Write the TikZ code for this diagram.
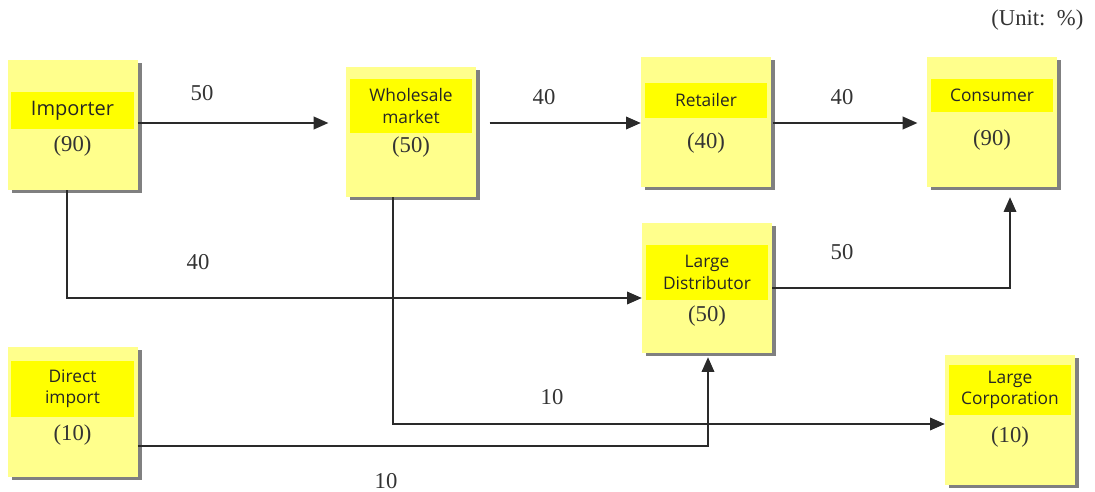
\documentclass[tikz,border=0pt]{standalone}
\usepackage{fontspec}
\setmainfont{Liberation Serif}
\newfontfamily\boxfont{Open Sans}
\usetikzlibrary{arrows.meta,shadows}
\definecolor{notefill}{HTML}{FFFF8C}
\definecolor{bandfill}{HTML}{FFFF00}
\definecolor{linegray}{HTML}{2A2A2A}
\begin{document}
\begin{tikzpicture}[x=0.75pt,y=-0.75pt,
    note/.style={fill=notefill,minimum width=97.5pt,minimum height=97.5pt,inner sep=0pt,
      drop shadow={shadow xshift=3pt,shadow yshift=-2.5pt,fill=black!50,opacity=1}},
    band/.style={fill=bandfill,minimum width=92pt,inner sep=0pt,align=center,
      font=\boxfont\fontsize{13}{16}\selectfont,text=black!85},
    val/.style={font=\fontsize{17}{19}\selectfont,text=black!80},
    num/.style={font=\fontsize{17}{19}\selectfont,text=black!80},
    arr/.style={draw=linegray,line width=1pt,-{Triangle[length=11pt,width=9.5pt]}}]
  \useasboundingbox (0,0) rectangle (1095,492);
  \node[note] (imp) at (72.5,125) {};
  \node[band,minimum height=27.75pt,font=\boxfont\fontsize{15}{17}\selectfont] (impb) at (72.5,110.5) {Importer};
  \node[val] (impv) at (72.5,146) {(90)};
  \node[note] (whs) at (411,132) {};
  \node[band,minimum height=40.5pt] (whsb) at (411,106) {Wholesale\\market};
  \node[val] (whsv) at (411,147) {(50)};
  \node[note] (ret) at (706,122) {};
  \node[band,minimum height=26.25pt] (retb) at (706,100.5) {Retailer};
  \node[val] (retv) at (706,143) {(40)};
  \node[note] (con) at (992,122) {};
  \node[band,minimum height=24.75pt] (conb) at (992,95.5) {Consumer};
  \node[val] (conv) at (992,140) {(90)};
  \node[note] (ld) at (707,288) {};
  \node[band,minimum height=41.25pt] (ldb) at (707,272.5) {Large\\Distributor};
  \node[val] (ldv) at (707,316) {(50)};
  \node[note] (lc) at (1010,420) {};
  \node[band,minimum height=37.5pt] (lcb) at (1010,390) {Large\\Corporation};
  \node[val] (lcv) at (1010,437) {(10)};
  \node[note] (di) at (72.5,412) {};
  \node[band,minimum height=42pt] (dib) at (72.5,389) {Direct\\import};
  \node[val] (div) at (72.5,435) {(10)};

  \draw[arr,shorten >=13pt] (imp.east |- 0,123) -- (whs.west |- 0,123);
  \draw[arr,shorten <=10pt] (whs.east |- 0,123) -- (ret.west |- 0,123);
  \draw[arr,shorten <=1.5pt,shorten >=7pt] (ret.east |- 0,123) -- (con.west |- 0,123);
  \draw[arr] (imp.south -| 67,0) |- (ld.west |- 0,298);
  \draw[arr,shorten >=7.5pt] (ld.east |- 0,288) -| (con.south -| 1010,0);
  \draw[arr] (whs.south -| 393,0) |- (lc.west |- 0,424);
  \draw[arr,shorten >=3pt] (di.east |- 0,446) -| (ld.south -| 708,0);

  \node[num] (n1) at (202,93) {50};
  \node[num] (n2) at (544,97) {40};
  \node[num] (n3) at (842,97) {40};
  \node[num] (n4) at (198,262) {40};
  \node[num] (n5) at (842,252) {50};
  \node[num] (n6) at (552,397) {10};
  \node[num] (n7) at (386,481) {10};
  \node[num,anchor=east] (unit) at (1088,20) {(Unit:\enspace\%)};
\end{tikzpicture}
\end{document}
